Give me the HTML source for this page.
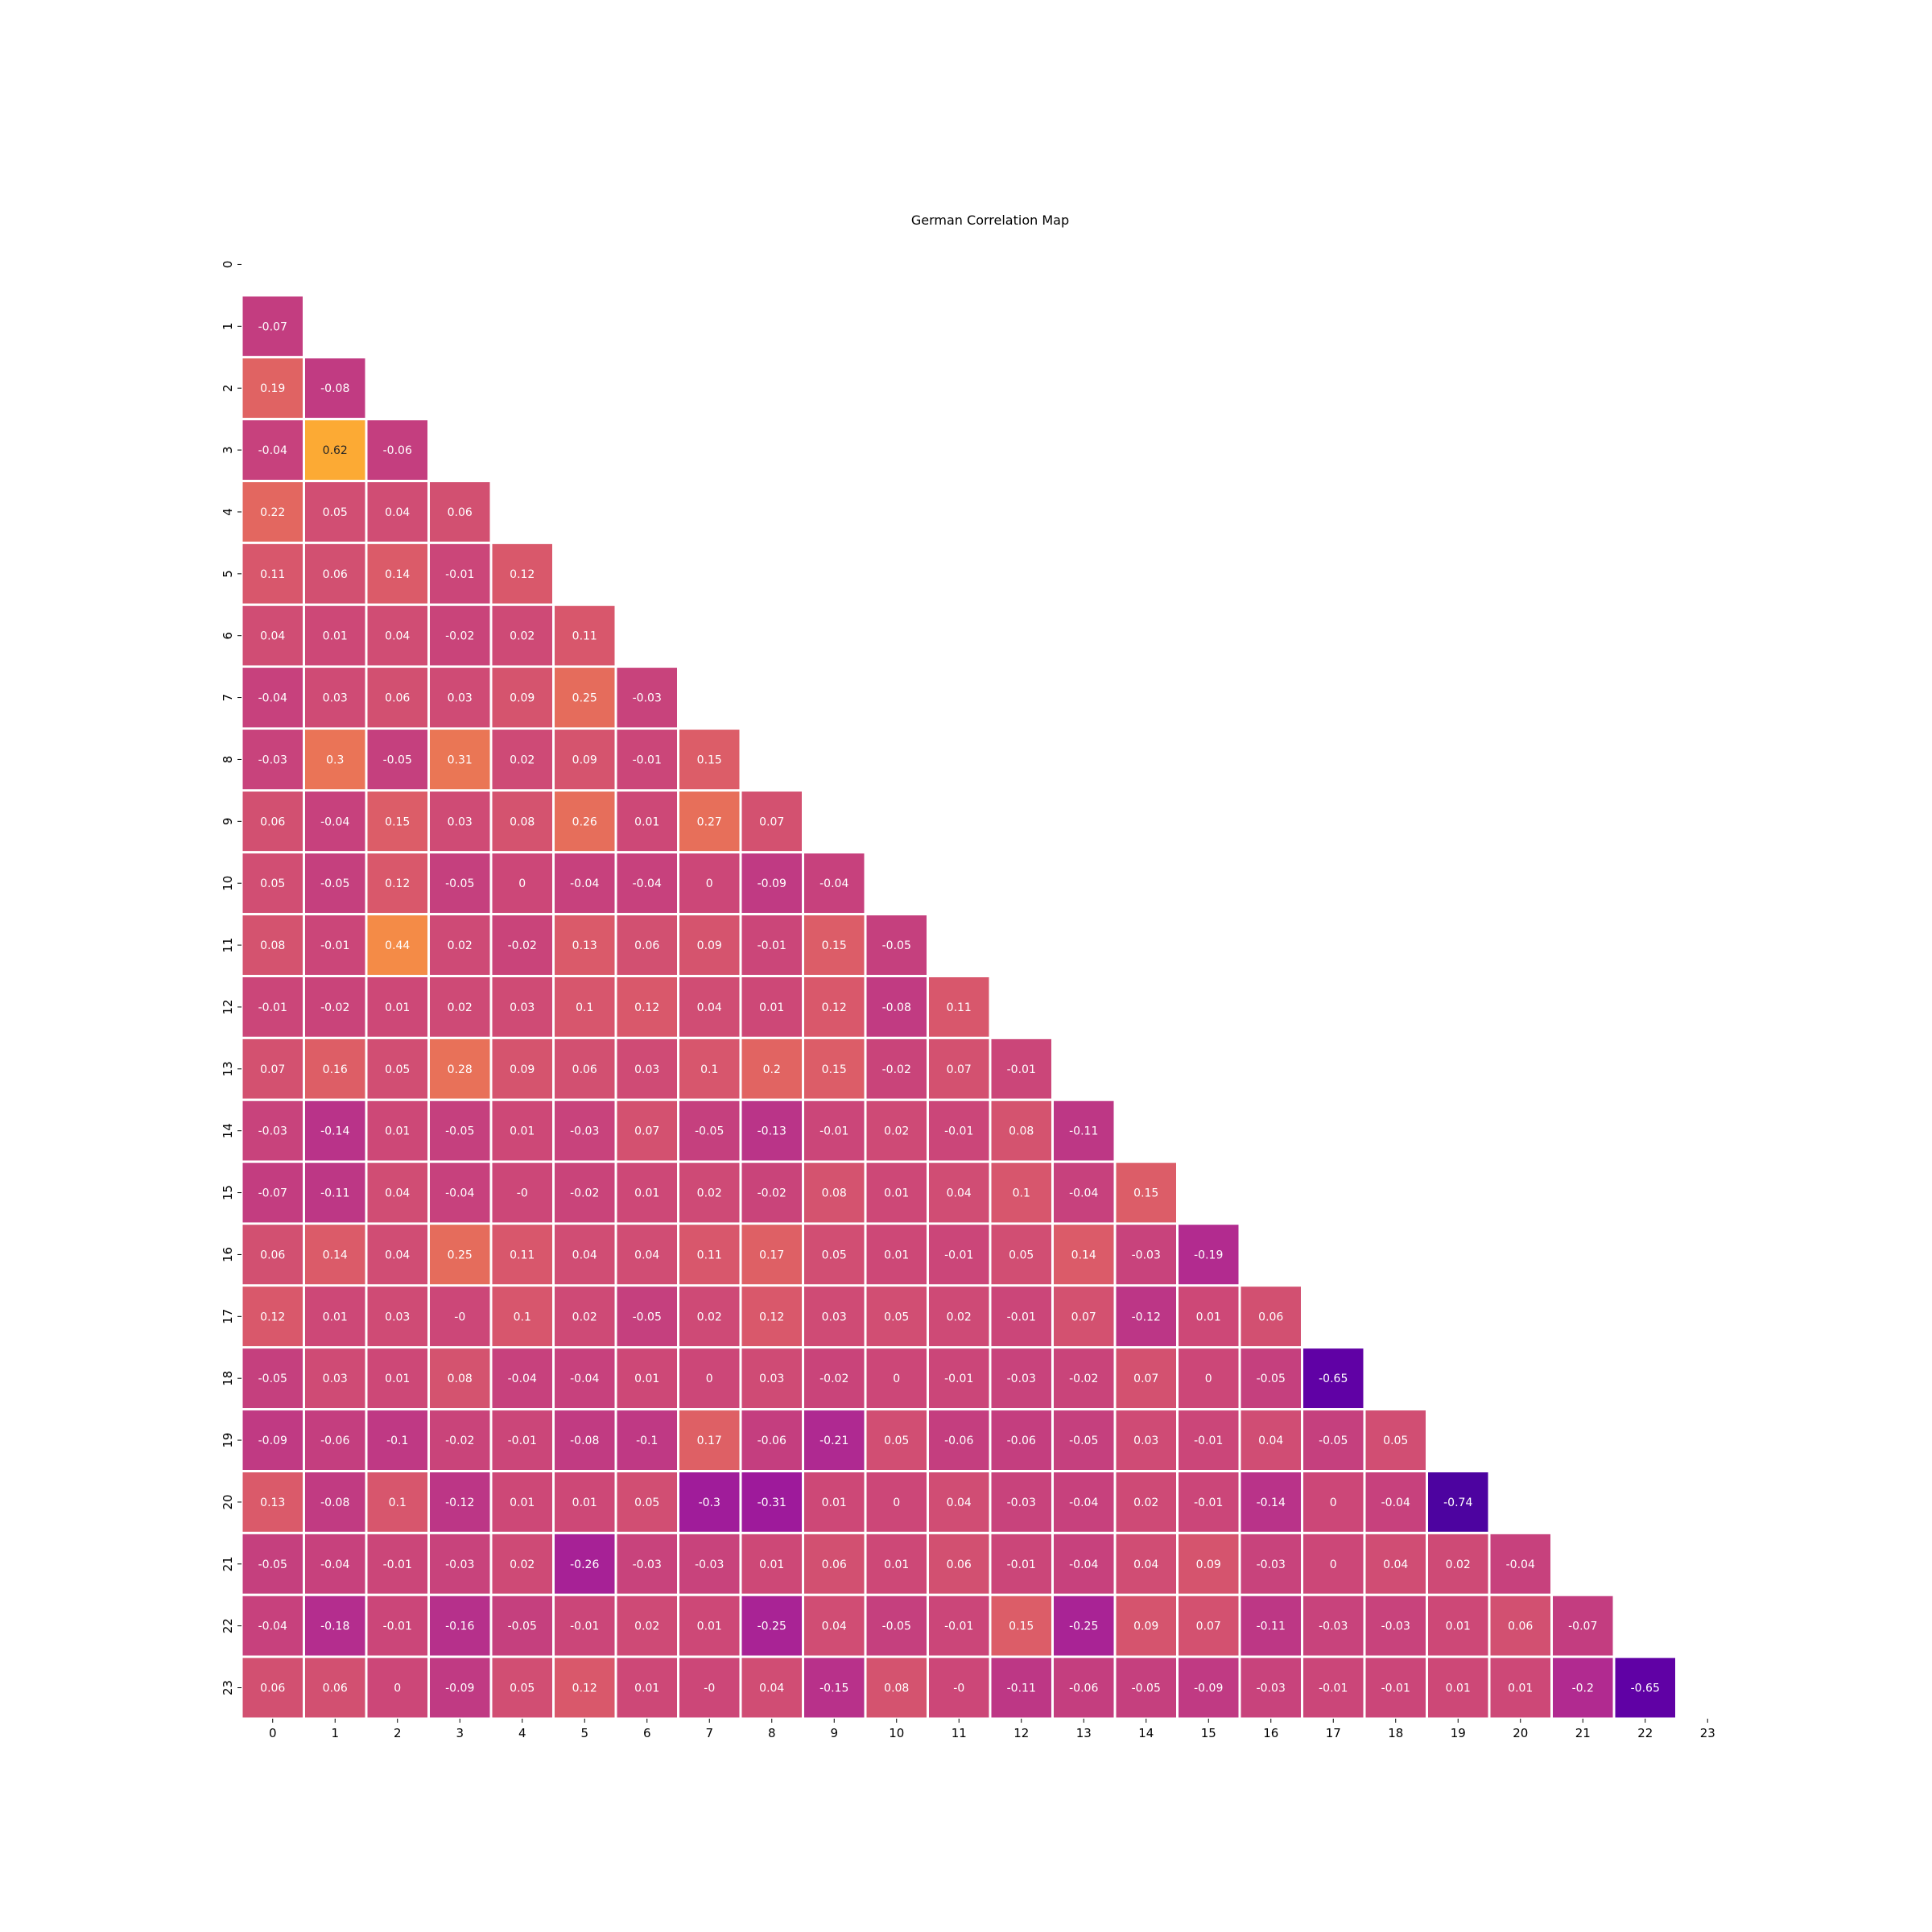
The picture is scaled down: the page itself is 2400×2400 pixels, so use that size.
<!DOCTYPE html>
<html><head><meta charset="utf-8"><style>
html,body{margin:0;padding:0;background:#fff}
svg{display:block;font-family:"DejaVu Sans","Liberation Sans",sans-serif}
</style></head><body>
<svg id="chart" width="2400" height="2400" viewBox="0 0 2400 2400">
<text x="1230" y="279" font-size="16" text-anchor="middle">German Correlation Map</text>
<g id="cells"></g>
<g id="axes"></g>
</svg>
<script>
const categories = Array.from({length:24},(_,i)=>String(i));
const row1=[-0.07];
const row2=[0.19,-0.08];
const row3=[-0.04,0.62,-0.06];
const row4=[0.22,0.05,0.04,0.06];
const row5=[0.11,0.06,0.14,-0.01,0.12];
const row6=[0.04,0.01,0.04,-0.02,0.02,0.11];
const row7=[-0.04,0.03,0.06,0.03,0.09,0.25,-0.03];
const row8=[-0.03,0.3,-0.05,0.31,0.02,0.09,-0.01,0.15];
const row9=[0.06,-0.04,0.15,0.03,0.08,0.26,0.01,0.27,0.07];
const row10=[0.05,-0.05,0.12,-0.05,0,-0.04,-0.04,0,-0.09,-0.04];
const row11=[0.08,-0.01,0.44,0.02,-0.02,0.13,0.06,0.09,-0.01,0.15,-0.05];
const row12=[-0.01,-0.02,0.01,0.02,0.03,0.1,0.12,0.04,0.01,0.12,-0.08,0.11];
const row13=[0.07,0.16,0.05,0.28,0.09,0.06,0.03,0.1,0.2,0.15,-0.02,0.07,-0.01];
const row14=[-0.03,-0.14,0.01,-0.05,0.01,-0.03,0.07,-0.05,-0.13,-0.01,0.02,-0.01,0.08,-0.11];
const row15=[-0.07,-0.11,0.04,-0.04,-0,-0.02,0.01,0.02,-0.02,0.08,0.01,0.04,0.1,-0.04,0.15];
const row16=[0.06,0.14,0.04,0.25,0.11,0.04,0.04,0.11,0.17,0.05,0.01,-0.01,0.05,0.14,-0.03,-0.19];
const row17=[0.12,0.01,0.03,-0,0.1,0.02,-0.05,0.02,0.12,0.03,0.05,0.02,-0.01,0.07,-0.12,0.01,0.06];
const row18=[-0.05,0.03,0.01,0.08,-0.04,-0.04,0.01,0,0.03,-0.02,0,-0.01,-0.03,-0.02,0.07,0,-0.05,-0.65];
const row19=[-0.09,-0.06,-0.1,-0.02,-0.01,-0.08,-0.1,0.17,-0.06,-0.21,0.05,-0.06,-0.06,-0.05,0.03,-0.01,0.04,-0.05,0.05];
const row20=[0.13,-0.08,0.1,-0.12,0.01,0.01,0.05,-0.3,-0.31,0.01,0,0.04,-0.03,-0.04,0.02,-0.01,-0.14,0,-0.04,-0.74];
const row21=[-0.05,-0.04,-0.01,-0.03,0.02,-0.26,-0.03,-0.03,0.01,0.06,0.01,0.06,-0.01,-0.04,0.04,0.09,-0.03,0,0.04,0.02,-0.04];
const row22=[-0.04,-0.18,-0.01,-0.16,-0.05,-0.01,0.02,0.01,-0.25,0.04,-0.05,-0.01,0.15,-0.25,0.09,0.07,-0.11,-0.03,-0.03,0.01,0.06,-0.07];
const row23=[0.06,0.06,0,-0.09,0.05,0.12,0.01,-0,0.04,-0.15,0.08,-0,-0.11,-0.06,-0.05,-0.09,-0.03,-0.01,-0.01,0.01,0.01,-0.2,-0.65];
const rows=[[],row1,row2,row3,row4,row5,row6,row7,row8,row9,row10,row11,row12,row13,row14,row15,row16,row17,row18,row19,row20,row21,row22,row23];

const L=300,T=290,CW=77.5,CH=76.875,N=24,VMIN=-1,VMAX=1;
const xPos=i=>L+i*CW, yPos=j=>T+j*CH;
const stops=["#0d0887","#41049d","#6a00a8","#8f0da4","#b12a90","#cc4778","#e16462","#f2844b","#fca636","#fcce25","#f0f921"];
function hex(h){return [1,3,5].map(k=>parseInt(h.substr(k,2),16));}
function cmap(v){let t=Math.max(0,Math.min(1,(v-VMIN)/(VMAX-VMIN)))*10;let i=Math.min(9,Math.floor(t)),f=t-i;
 const a=hex(stops[i]),b=hex(stops[i+1]);return a.map((c,k)=>Math.round(c+(b[k]-c)*f));}
function lin(c){c/=255;return c<=0.03928?c/12.92:Math.pow((c+0.055)/1.055,2.4);}
function fmt(v){return Object.is(v,-0)?"-0":String(v);}
const NS="http://www.w3.org/2000/svg";
const cells=document.getElementById('cells'),axes=document.getElementById('axes');
rows.forEach((r,j)=>r.forEach((v,i)=>{
 const c=cmap(v);
 const rect=document.createElementNS(NS,'rect');
 rect.setAttribute('x',xPos(i));rect.setAttribute('y',yPos(j));
 rect.setAttribute('width',CW);rect.setAttribute('height',CH);
 rect.setAttribute('fill',`rgb(${c})`);rect.setAttribute('stroke','#fff');rect.setAttribute('stroke-width','3');
 
 
 cells.appendChild(rect);
 const lum=0.2126*lin(c[0])+0.7152*lin(c[1])+0.0722*lin(c[2]);
 const t=document.createElementNS(NS,'text');
 t.setAttribute('x',xPos(i)+CW/2);t.setAttribute('y',yPos(j)+CH/2+5);
 t.setAttribute('text-anchor','middle');t.setAttribute('font-size','14');
 t.setAttribute('fill',lum>0.408?'#262626':'#fff');
 t.textContent=fmt(v);
 
 
 cells.appendChild(t);
}));
categories.forEach((lab,i)=>{
 const x=xPos(i)+CW/2;
 const tk=document.createElementNS(NS,'line');
 tk.setAttribute('x1',x);tk.setAttribute('x2',x);tk.setAttribute('y1',T+N*CH);tk.setAttribute('y2',T+N*CH+5);tk.setAttribute('stroke','#000');
 
 
 axes.appendChild(tk);
 const t=document.createElementNS(NS,'text');
 t.setAttribute('x',x);t.setAttribute('y',T+N*CH+23);t.setAttribute('text-anchor','middle');t.setAttribute('font-size','15');
 t.textContent=lab;
 
 
 axes.appendChild(t);
 const y=yPos(i)+CH/2;
 const tk2=document.createElementNS(NS,'line');
 tk2.setAttribute('x1',L-5);tk2.setAttribute('x2',L);tk2.setAttribute('y1',y);tk2.setAttribute('y2',y);tk2.setAttribute('stroke','#000');
 
 
 axes.appendChild(tk2);
 const t2=document.createElementNS(NS,'text');
 t2.setAttribute('transform',`translate(${L-12},${y}) rotate(-90)`);t2.setAttribute('text-anchor','middle');t2.setAttribute('font-size','15');
 t2.textContent=lab;
 
 
 axes.appendChild(t2);
});
</script>
</body></html>
